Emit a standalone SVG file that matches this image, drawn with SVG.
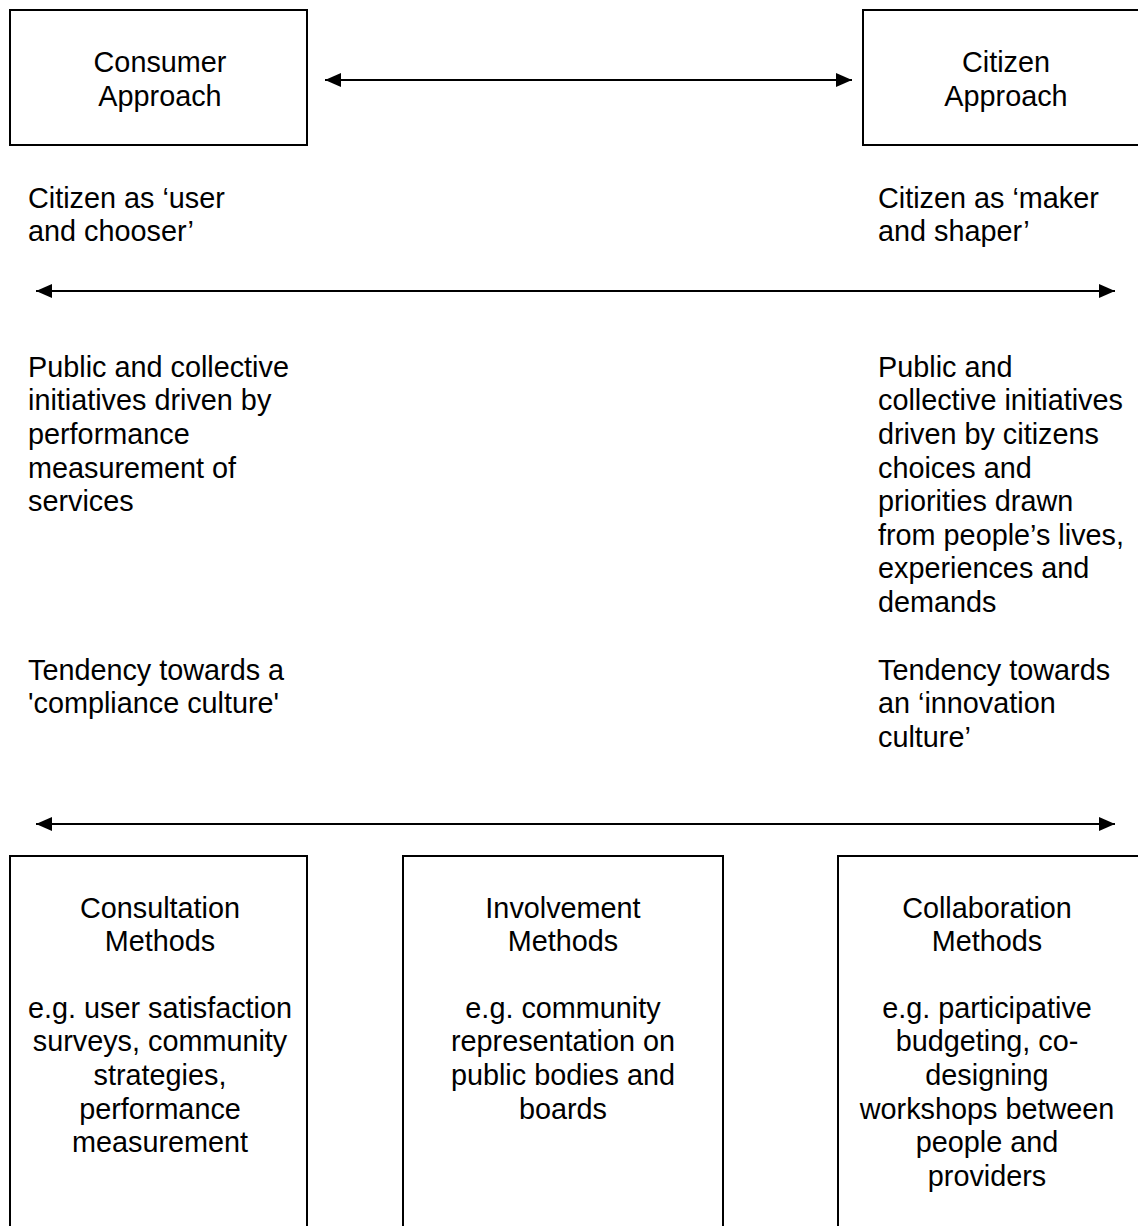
<svg xmlns="http://www.w3.org/2000/svg" width="1138" height="1226" viewBox="0 0 1138 1226">
<defs>
<style>
text{font-family:"Liberation Sans",Arial,sans-serif;font-size:28.8px;fill:#000}
.c{text-anchor:middle}
.box{fill:#fff;stroke:#000;stroke-width:2}
.conn{stroke:#000;stroke-width:2;fill:none}
</style>
<marker id="ah" viewBox="0 0 16 14" refX="16" refY="7" markerWidth="16" markerHeight="14" markerUnits="userSpaceOnUse" orient="auto-start-reverse">
<path d="M0,0 L16,7 L0,14 Z" fill="#000"/>
</marker>
</defs>
<rect width="1138" height="1226" fill="#fff"/>
<g id="connectors">
<line class="conn" x1="325" y1="80" x2="852" y2="80" marker-start="url(#ah)" marker-end="url(#ah)"/>
<line class="conn" x1="36" y1="291" x2="1115" y2="291" marker-start="url(#ah)" marker-end="url(#ah)"/>
<line class="conn" x1="36" y1="824" x2="1115" y2="824" marker-start="url(#ah)" marker-end="url(#ah)"/>
</g>
<g id="consumer-approach">
<rect class="box" x="10" y="10" width="297" height="135"/>
<text class="c" x="160" y="72">Consumer</text>
<text class="c" x="160" y="105.5">Approach</text>
</g>
<g id="citizen-approach">
<rect class="box" x="863" y="10" width="290" height="135"/>
<text class="c" x="1006" y="72">Citizen</text>
<text class="c" x="1006" y="105.5">Approach</text>
</g>
<g id="left-text">
<text x="28" y="207.5">Citizen as ‘user</text>
<text x="28" y="241">and chooser’</text>
<text x="28" y="376.7">Public and collective</text>
<text x="28" y="410.3">initiatives driven by</text>
<text x="28" y="443.9">performance</text>
<text x="28" y="477.5">measurement of</text>
<text x="28" y="511.1">services</text>
<text x="28" y="679.5">Tendency towards a</text>
<text x="28" y="713.1">'compliance culture'</text>
</g>
<g id="right-text">
<text x="878" y="207.5">Citizen as ‘maker</text>
<text x="878" y="241">and shaper’</text>
<text x="878" y="376.7">Public and</text>
<text x="878" y="410.3">collective initiatives</text>
<text x="878" y="443.9">driven by citizens</text>
<text x="878" y="477.5">choices and</text>
<text x="878" y="511.1">priorities drawn</text>
<text x="878" y="544.7">from people’s lives,</text>
<text x="878" y="578.3">experiences and</text>
<text x="878" y="611.9">demands</text>
<text x="878" y="679.5">Tendency towards</text>
<text x="878" y="713.1">an ‘innovation</text>
<text x="878" y="746.7">culture’</text>
</g>
<g id="consultation-methods">
<rect class="box" x="10" y="856" width="297" height="400"/>
<text class="c" x="160" y="917.5">Consultation</text>
<text class="c" x="160" y="951">Methods</text>
<text class="c" x="160" y="1017.7">e.g. user satisfaction</text>
<text class="c" x="160" y="1051.3">surveys, community</text>
<text class="c" x="160" y="1084.9">strategies,</text>
<text class="c" x="160" y="1118.5">performance</text>
<text class="c" x="160" y="1152.1">measurement</text>
</g>
<g id="involvement-methods">
<rect class="box" x="403" y="856" width="320" height="400"/>
<text class="c" x="563" y="917.5">Involvement</text>
<text class="c" x="563" y="951">Methods</text>
<text class="c" x="563" y="1017.7">e.g. community</text>
<text class="c" x="563" y="1051.3">representation on</text>
<text class="c" x="563" y="1084.9">public bodies and</text>
<text class="c" x="563" y="1118.5">boards</text>
</g>
<g id="collaboration-methods">
<rect class="box" x="838" y="856" width="310" height="400"/>
<text class="c" x="987" y="917.5">Collaboration</text>
<text class="c" x="987" y="951">Methods</text>
<text class="c" x="987" y="1017.7">e.g. participative</text>
<text class="c" x="987" y="1051.3">budgeting, co-</text>
<text class="c" x="987" y="1084.9">designing</text>
<text class="c" x="987" y="1118.5">workshops between</text>
<text class="c" x="987" y="1152.1">people and</text>
<text class="c" x="987" y="1185.7">providers</text>
</g>
</svg>
